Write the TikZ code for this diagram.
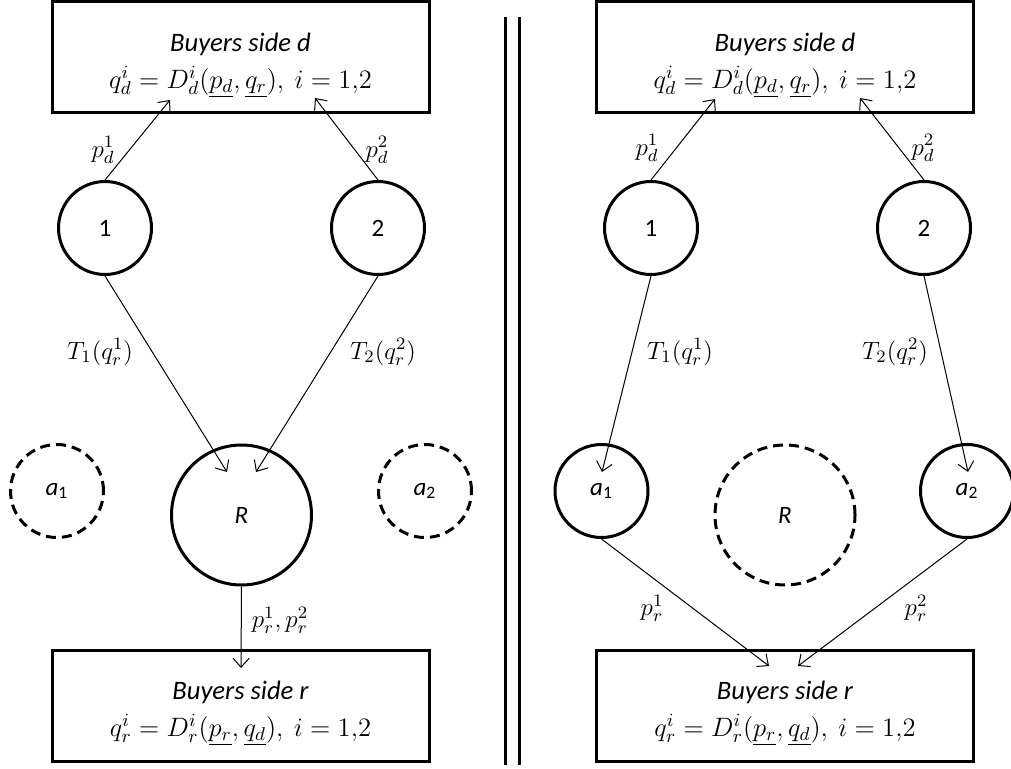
\documentclass[tikz,border=0pt]{standalone}
\usepackage{fix-cm}
\usepackage{fontspec}
\setmainfont{Carlito}
\usepackage{tikz}
\usetikzlibrary{arrows.meta}
\tikzset{
  side/.style={rectangle,draw,line width=1.5pt,minimum width=188.5pt,minimum height=55.5pt,inner sep=0pt,align=center,font=\fontsize{13.3}{18.5}\selectfont},
  firm/.style={circle,draw,line width=1.5pt,minimum size=46.5pt,inner sep=0pt,font=\fontsize{12.5}{14}\selectfont},
  hub/.style={circle,draw,line width=1.5pt,minimum size=70pt,inner sep=0pt,font=\fontsize{12.5}{14}\selectfont\itshape},
  off/.style={dash pattern=on 5pt off 3pt},
  flow/.style={-{Straight Barb[length=4.5pt,width=8pt]},line width=0.5pt},
  tag/.style={inner sep=1pt,font=\fontsize{12.5}{14}\selectfont}
}
\newcommand{\dside}{\rule{0pt}{17pt}{\itshape Buyers side d}\\ $q_d^i = D_d^i\bigl(\underline{p_d},\underline{q_r}\bigr),\ i = 1{,}2$}
\newcommand{\rside}{\rule{0pt}{17pt}{\itshape Buyers side r}\\ $q_r^i = D_r^i\bigl(\underline{p_r},\underline{q_d}\bigr),\ i = 1{,}2$}
\newcommand{\agent}[1]{{\itshape a}\textsubscript{#1}}

\begin{document}
\begin{tikzpicture}[x=0.5pt,y=-0.5pt]
\useasboundingbox (0,0) rectangle (1011,769);
% left panel
\node[side] (DL) at (240.5,57.5)  {\dside};
\node[side] (SL) at (240.5,705.5) {\rside};
\node[firm] (F1L) at (105,228) {1};
\node[firm] (F2L) at (378,228) {2};
\node[firm,off] (A1L) at (57,491)  {\agent{1}};
\node[firm,off] (A2L) at (425,491) {\agent{2}};
\node[hub] (RL) at (241.5,515) {R};
\coordinate (dL1) at (170,100);
\coordinate (dL2) at (315,98);
\coordinate (rL1) at (227,472);
\coordinate (rL2) at (256,472);
\coordinate (sL) at (241,668);
\draw[flow] (F1L.north) -- (dL1);
\draw[flow] (F2L.north) -- (dL2);
\draw[flow] (F1L.south) -- (rL1);
\draw[flow] (F2L.south) -- (rL2);
\draw[flow] (RL.south) -- (sL);
\node[tag] (pdL1) at (103,150) {$p_d^1$};
\node[tag] (pdL2) at (377,150) {$p_d^2$};
\node[tag] (tL1) at (100,352) {$T_1(q_r^1)$};
\node[tag] (tL2) at (383,352) {$T_2(q_r^2)$};
\node[tag] (prL) at (280,620) {$p_r^1,p_r^2$};
% separator
\draw[line width=1.5pt] (505,17) -- (505,765);
\draw[line width=1.5pt] (519,17) -- (519,765);
% right panel
\node[side] (DR) at (785,57.5)  {\dside};
\node[side] (SR) at (785,705.5) {\rside};
\node[firm] (F1R) at (651,228) {1};
\node[firm] (F2R) at (924,228) {2};
\node[firm] (A1R) at (601.5,491) {\agent{1}};
\node[firm] (A2R) at (967,491)   {\agent{2}};
\node[hub,off] (RR) at (785,515) {R};
\coordinate (dR1) at (715,99);
\coordinate (dR2) at (860,98);
\coordinate (aR1) at (602,472);
\coordinate (aR2) at (968,472);
\coordinate (sR1) at (769,666);
\coordinate (sR2) at (798,666);
\draw[flow] (F1R.north) -- (dR1);
\draw[flow] (F2R.north) -- (dR2);
\draw[flow] (F1R.south) -- (aR1);
\draw[flow] (F2R.south) -- (aR2);
\draw[flow] (A1R.south) -- (sR1);
\draw[flow] (A2R.south) -- (sR2);
\node[tag] (pdR1) at (647,148) {$p_d^1$};
\node[tag] (pdR2) at (923,148) {$p_d^2$};
\node[tag] (tR1) at (680,352) {$T_1(q_r^1)$};
\node[tag] (tR2) at (895,352) {$T_2(q_r^2)$};
\node[tag] (prR1) at (652,608) {$p_r^1$};
\node[tag] (prR2) at (916,608) {$p_r^2$};
\end{tikzpicture}
\end{document}
